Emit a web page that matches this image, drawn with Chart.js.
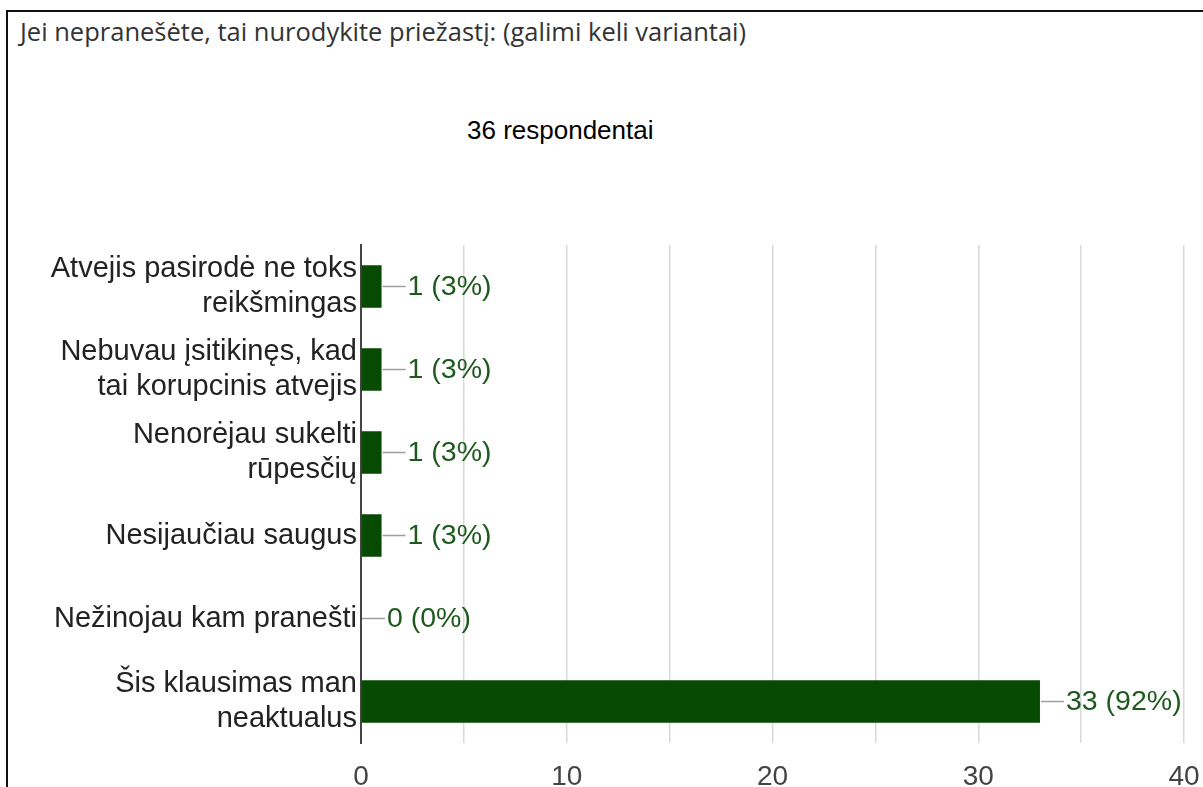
<!DOCTYPE html>
<html>
<head>
<meta charset="utf-8">
<script src="https://cdn.jsdelivr.net/npm/chart.js@4"></script>
<style>
  body { margin: 0; background: #fff; width: 1203px; height: 787px; overflow: hidden; position: relative; }
  #frame { position: absolute; left: 6px; top: 10px; width: 1197px; height: 777px; border-top: 2px solid #111; border-left: 2px solid #111; }
  #question { position: absolute; left: 20px; top: 14px; font-family: "Open Sans", sans-serif; font-size: 25.5px; color: #333; white-space: nowrap; }
  #count { position: absolute; left: 467px; top: 115px; font-family: "Liberation Sans", Arial, sans-serif; font-size: 26px; color: #000; white-space: nowrap; }
  #chartCanvas { position: absolute; left: 0; top: 0; }
</style>
</head>
<body>
<div id="frame"></div>
<div id="question">Jei nepranešėte, tai nurodykite priežastį: (galimi keli variantai)</div>
<div id="count">36 respondentai</div>
<canvas id="chartCanvas" width="1203" height="787"></canvas>
<script>
const categories = [
    ["Atvejis pasirodė ne toks", "reikšmingas"],
    ["Nebuvau įsitikinęs, kad", "tai korupcinis atvejis"],
    ["Nenorėjau sukelti", "rūpesčių"],
    "Nesijaučiau saugus",
    "Nežinojau kam pranešti",
    ["Šis klausimas man", "neaktualus"]
];
const counts = [1, 1, 1, 1, 0, 33];
const percents = [3, 3, 3, 3, 0, 92];
const xTicks = [0, 10, 20, 30, 40];

const FONT = "'Liberation Sans', Arial, sans-serif";

// Leader line + "n (p%)" label after each bar
const valueLabels = {
    id: "valueLabels",
    afterDatasetsDraw(chart) {
        const ctx = chart.ctx;
        const meta = chart.getDatasetMeta(0);
        ctx.save();
        meta.data.forEach((bar, i) => {
            const x = bar.x;
            const y = bar.y;
            ctx.strokeStyle = "#9e9e9e";
            ctx.lineWidth = 1.5;
            ctx.beginPath();
            ctx.moveTo(x + 1, y);
            ctx.lineTo(x + 24, y);
            ctx.stroke();
            ctx.fillStyle = "#1e5a1e";
            ctx.font = "28.5px " + FONT;
            ctx.textAlign = "left";
            ctx.textBaseline = "middle";
            ctx.fillText(counts[i] + " (" + percents[i] + "%)", x + 26, y + 1);
        });
        ctx.restore();
    }
};

new Chart(document.getElementById("chartCanvas").getContext("2d"), {
    type: "bar",
    data: {
        labels: categories,
        datasets: [{
            data: counts,
            backgroundColor: "#074b02",
            categoryPercentage: 1,
            barPercentage: 0.51
        }]
    },
    options: {
        indexAxis: "y",
        responsive: false,
        devicePixelRatio: 1,
        animation: false,
        layout: { padding: { left: 0, top: 245, right: 19, bottom: 0 } },
        plugins: {
            legend: { display: false },
            tooltip: { enabled: false }
        },
        scales: {
            x: {
                min: 0,
                max: 40,
                ticks: {
                    stepSize: 5,
                    padding: 17,
                    color: "#444",
                    font: { family: FONT, size: 28 },
                    maxRotation: 0,
                    callback: v => xTicks.includes(v) ? String(v) : ""
                },
                grid: {
                    drawTicks: false,
                    lineWidth: 1.5,
                    color: c => c.index === 0 ? "rgba(0,0,0,0)" : "#d9d9d9"
                },
                border: { display: false },
                afterFit(scale) {
                    scale.height = 44;
                    scale.paddingLeft = 0;
                    scale.paddingRight = 0;
                }
            },
            y: {
                ticks: {
                    padding: -4,
                    color: "#222",
                    font: { family: FONT, size: 29, lineHeight: 1.2 }
                },
                grid: { display: false },
                border: { display: true, color: "#444", width: 2 },
                afterFit(scale) { scale.width = 361; }
            }
        }
    },
    plugins: [valueLabels]
});
</script>
</body>
</html>
